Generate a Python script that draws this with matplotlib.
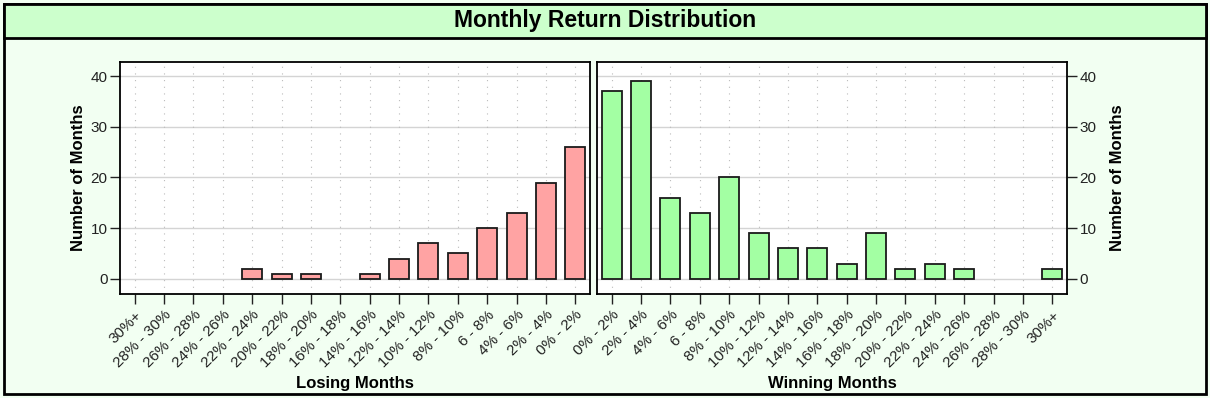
import numpy as np
import matplotlib.pyplot as plt
from matplotlib.patches import Rectangle

plt.rcParams['font.family'] = ['Liberation Sans', 'DejaVu Sans']

# Losing months (from -30%+ up to 0%)
losing_labels = ['30%+', '28% - 30%', '26% - 28%', '24% - 26%', '22% - 24%',
                 '20% - 22%', '18% - 20%', '16% - 18%', '14% - 16%',
                 '12% - 14%', '10% - 12%', '8% - 10%', '6 - 8%', '4% - 6%',
                 '2% - 4%', '0% - 2%']
losing_counts = [0, 0, 0, 0, 2, 1, 1, 0, 1, 4, 7, 5, 10, 13, 19, 26]

# Winning months
winning_labels = ['0% - 2%', '2% - 4%', '4% - 6%', '6 - 8%', '8% - 10%',
                  '10% - 12%', '12% - 14%', '14% - 16%', '16% - 18%',
                  '18% - 20%', '20% - 22%', '22% - 24%', '24% - 26%',
                  '26% - 28%', '28% - 30%', '30%+']
winning_counts = [37, 39, 16, 13, 20, 9, 6, 6, 3, 9, 2, 3, 2, 0, 0, 2]

W, H = 1210, 398
fig = plt.figure(figsize=(W / 100, H / 100), dpi=100)
fig.patch.set_facecolor('#f2fff2')

# outer frame and title band
fig.patches.append(Rectangle((4 / W, 4 / H), 1202 / W, 390 / H, transform=fig.transFigure,
                             facecolor='#f2fff2', edgecolor='black', lw=2, zorder=-2))
fig.patches.append(Rectangle((4 / W, 1 - 38 / H), 1202 / W, 34 / H, transform=fig.transFigure,
                             facecolor='#ccffcc', edgecolor='black', lw=2, zorder=-1))
fig.text(605 / W, 1 - 21 / H, 'Monthly Return Distribution', ha='center', va='center',
         fontsize=16.5, fontweight='bold')


def panel(rect, labels, counts, color, xlabel, right=False):
    ax = fig.add_axes(rect)
    x = np.arange(len(labels))
    counts = np.array(counts)
    # empty classes get no outline
    lws = np.where(counts > 0, 1.3, 0)
    ax.bar(x, counts, width=0.68, color=color, edgecolor='#1a1a1a', linewidth=lws, zorder=3)
    ax.set_xlim(-0.5, len(labels) - 0.5)
    ax.set_ylim(-3, 42.8)
    ax.set_yticks([0, 10, 20, 30, 40])
    ax.set_xticks(x)
    ax.set_xticklabels(labels, rotation=45, ha='right', rotation_mode='anchor')
    ax.tick_params(axis='both', direction='out', length=7, width=1, labelsize=11,
                   colors='#222222', pad=2)
    ax.tick_params(axis='x', labelsize=11, pad=3)
    for y in [0, 10, 20, 30, 40]:
        ax.axhline(y, color='#d4d4d4', lw=1, zorder=1)
    for xi in x:
        ax.axvline(xi, color='#bbbbbb', lw=0.8, ls=(0, (1, 5)), zorder=1)
    for s in ax.spines.values():
        s.set_linewidth(1.3)
    ax.set_xlabel(xlabel, fontsize=12, fontweight='bold', va='center')
    ax.xaxis.set_label_coords(0.5, -0.385)
    if right:
        ax.yaxis.tick_right()
        ax.yaxis.set_label_position('right')
        ax.set_ylabel('Number of Months', fontsize=12, fontweight='bold', labelpad=10)
    else:
        ax.set_ylabel('Number of Months', fontsize=12, fontweight='bold', labelpad=3)
    ax.set_facecolor('white')
    return ax


ax1 = panel([120 / W, 1 - 294 / H, 470 / W, 232 / H], losing_labels, losing_counts,
            '#ffa3a3', 'Losing Months')
ax2 = panel([597 / W, 1 - 294 / H, 470 / W, 232 / H], winning_labels, winning_counts,
            '#a3ffa3', 'Winning Months', right=True)

fig.savefig('out.png', dpi=100, facecolor=fig.get_facecolor())
